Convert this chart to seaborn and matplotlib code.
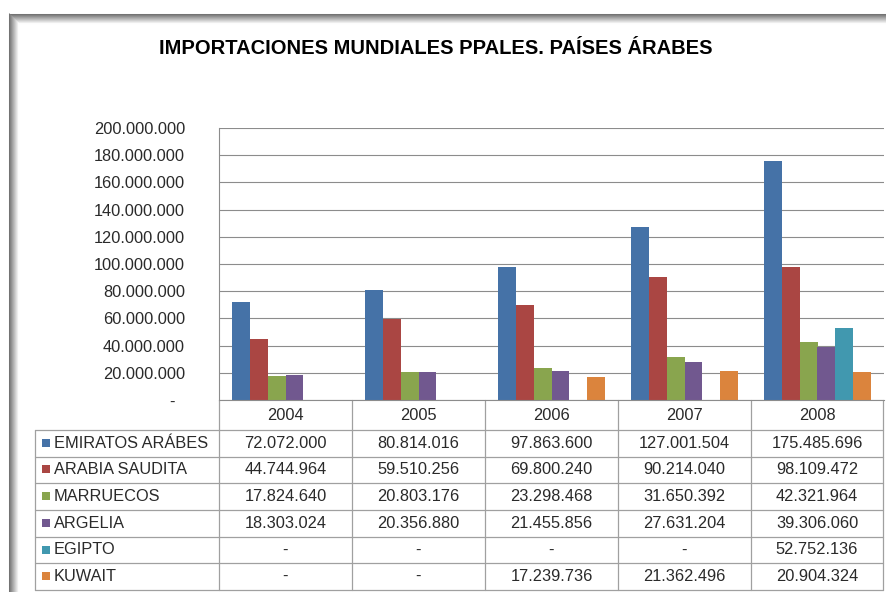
import numpy as np
import pandas as pd
import matplotlib
matplotlib.use("Agg")
import matplotlib.pyplot as plt
import seaborn as sns

years = ["2004", "2005", "2006", "2007", "2008"]
countries = ["EMIRATOS ARÁBES", "ARABIA SAUDITA", "MARRUECOS", "ARGELIA", "EGIPTO", "KUWAIT"]
emiratos = [72072000, 80814016, 97863600, 127001504, 175485696]
arabia = [44744964, 59510256, 69800240, 90214040, 98109472]
marruecos = [17824640, 20803176, 23298468, 31650392, 42321964]
argelia = [18303024, 20356880, 21455856, 27631204, 39306060]
egipto = [np.nan, np.nan, np.nan, np.nan, 52752136]
kuwait = [np.nan, np.nan, 17239736, 21362496, 20904324]
series = [emiratos, arabia, marruecos, argelia, egipto, kuwait]
colors = ["#4572A7", "#AA4643", "#89A54E", "#71588F", "#4198AF", "#DB843D"]
title = "IMPORTACIONES MUNDIALES PPALES. PAÍSES ÁRABES"
yticks = list(range(0, 200000001, 20000000))

sns.set_theme(style="white")
plt.rcParams["font.family"] = ["Liberation Sans", "DejaVu Sans"]

W, H = 886, 592
FS = 11.8
TC = "#2a2a2a"
fig = plt.figure(figsize=(W / 100, H / 100), dpi=100)

# overlay axes in pixel coordinates
ov = fig.add_axes([0, 0, 1, 1], zorder=0)
ov.set_xlim(0, W)
ov.set_ylim(H, 0)
ov.axis("off")

# frame with inner shadow
for i in range(10):
    g = min(1.0, 0.45 + 0.06 * i)
    c = (g, g, g)
    ov.plot([9 + i, W], [13.5 + i, 13.5 + i], color=c, lw=0.75, solid_capstyle="butt")
    ov.plot([9.5 + i, 9.5 + i], [13 + i, H], color=c, lw=0.75, solid_capstyle="butt")

# title
ov.text(436, 49, title, ha="center", va="center", fontsize=14.5, fontweight="bold", color="black")

# bar axes
left, right, top, bottom = 219, 884, 128, 400
ax = fig.add_axes([left / W, (H - bottom) / H, (right - left) / W, (bottom - top) / H], zorder=1)
ax.patch.set_alpha(0)

rows = []
for name, vals in zip(countries, series):
    for y, v in zip(years, vals):
        if not np.isnan(v):
            rows.append({"year": y, "country": name, "value": v})
df = pd.DataFrame(rows)

sns.barplot(data=df, x="year", y="value", hue="country", order=years, hue_order=countries,
            palette=colors, saturation=1, width=0.8, errorbar=None, legend=False,
            linewidth=0, ax=ax)

ax.set_ylim(0, 200000000)
ax.set_xlim(-0.5, len(years) - 0.5)
ax.set_yticks(yticks)
ax.set_yticklabels(["-  " if t == 0 else f"{t:,.0f}".replace(",", ".") for t in yticks])
ax.tick_params(axis="y", length=0, pad=24.5, labelsize=FS, labelcolor=TC)
ax.tick_params(axis="x", length=0, labelbottom=False)
ax.set_xlabel("")
ax.set_ylabel("")
ax.yaxis.grid(True, color="#8c8c8c", lw=0.8)
ax.set_axisbelow(True)
for s in ["top", "right"]:
    ax.spines[s].set_visible(False)
for s in ["left", "bottom"]:
    ax.spines[s].set_color("#8c8c8c")
    ax.spines[s].set_linewidth(0.8)

# data table
lc = "#a0a0a0"
col_edges = [219, 352, 485, 618, 751, 883]
row_edges = [430, 456.5, 483, 510, 537, 563, 589.5]
for x in col_edges:
    ov.plot([x, x], [400, row_edges[-1]], color=lc, lw=0.9)
ov.plot([35, 35], [430, row_edges[-1]], color=lc, lw=0.9)
for yv in row_edges:
    ov.plot([35, 883], [yv, yv], color=lc, lw=0.9)

for j, yr in enumerate(years):
    cx = (col_edges[j] + col_edges[j + 1]) / 2
    ov.text(cx, 415.5, yr, ha="center", va="center", fontsize=FS, color=TC)

for i, (name, vals, c) in enumerate(zip(countries, series, colors)):
    cy = (row_edges[i] + row_edges[i + 1]) / 2
    ov.add_patch(plt.Rectangle((42, cy - 4.5), 8, 8, color=c, lw=0))
    ov.text(54, cy, name, ha="left", va="center", fontsize=FS, color=TC)
    for j, v in enumerate(vals):
        cx = (col_edges[j] + col_edges[j + 1]) / 2
        s = "-" if np.isnan(v) else f"{v:,.0f}".replace(",", ".")
        ov.text(cx, cy, s, ha="center", va="center", fontsize=FS, color=TC)

fig.savefig("out.png", dpi=100)
